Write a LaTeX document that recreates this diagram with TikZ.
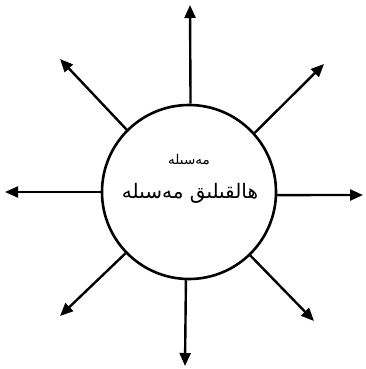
\documentclass[tikz,border=0pt]{standalone}
\usepackage{fontspec}
\usetikzlibrary{arrows.meta}
\newfontfamily\arabicfont[Script=Arabic]{DejaVu Sans}
\TeXXeTstate=1
\begin{document}
\begin{tikzpicture}[x=1pt,y=-1pt,
  ray/.style={line width=2.4pt,-{Triangle[length=13pt,width=11pt]}},
  hub/.style={circle,draw,line width=2.6pt,minimum size=174pt,inner sep=0pt},
  lbl/.style={inner sep=0pt}]
\useasboundingbox[fill=white] (0,0) rectangle (365,369);
\node[hub] (c) at (189,192) {};
\node[lbl] (t1) at (189,160) {\arabicfont\fontsize{13.5}{16}\selectfont\beginR مەسىلە\endR};
\node[lbl] (t2) at (190,193) {\arabicfont\fontsize{20}{24}\selectfont\beginR ھالقىلىق مەسىلە\endR};
\coordinate (pN) at (190,5);
\coordinate (pNE) at (324,64);
\coordinate (pE) at (363,195);
\coordinate (pSE) at (314,321);
\coordinate (pS) at (185,366);
\coordinate (pSW) at (60,316);
\coordinate (pW) at (5,192);
\coordinate (pNW) at (60,59);
\draw[ray] (c.89) -- (pN);
\draw[ray] (c.42) -- (pNE);
\draw[ray] (c.-2) -- (pE);
\draw[ray] (c.-46) -- (pSE);
\draw[ray] (c.-92) -- (pS);
\draw[ray] (c.224) -- (pSW);
\draw[ray] (c.180) -- (pW);
\draw[ray] (c.135) -- (pNW);
\end{tikzpicture}
\end{document}
